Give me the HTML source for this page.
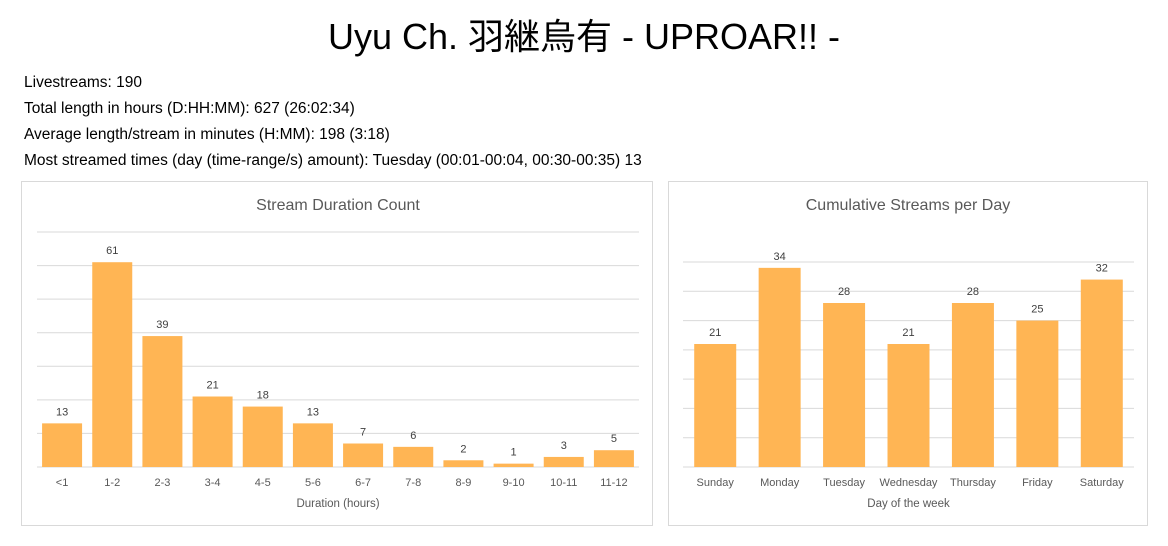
<!DOCTYPE html>
<html><head><meta charset="utf-8"><style>
body{margin:0;width:1168px;height:546px;background:#fff;font-family:"Liberation Sans","Noto Sans CJK JP",sans-serif;position:relative;overflow:hidden}
h1{position:absolute;top:8px;left:0;width:1168px;text-align:center;margin:0;font-weight:normal;font-size:36px;color:#000}
.st{position:absolute;left:24px;font-size:15.5px;color:#000}
.box{position:absolute;border:1px solid #d9d9d9;background:#fff}
svg text{font-family:"Liberation Sans",sans-serif}
</style></head><body>
<h1>Uyu Ch. 羽継烏有 - UPROAR!! -</h1>
<div class="st" style="top:74px">Livestreams: 190</div>
<div class="st" style="top:100px">Total length in hours (D:HH:MM): 627 (26:02:34)</div>
<div class="st" style="top:126px">Average length/stream in minutes (H:MM): 198 (3:18)</div>
<div class="st" style="top:152px">Most streamed times (day (time-range/s) amount): Tuesday (00:01-00:04, 00:30-00:35) 13</div>
<div class="box" style="left:21px;top:181px;width:630px;height:343px">
<svg id="c1" width="630" height="343"></svg></div>
<div class="box" style="left:668px;top:181px;width:478px;height:343px">
<svg id="c2" width="478" height="343"></svg></div>
<script>
const durCats=["<1","1-2","2-3","3-4","4-5","5-6","6-7","7-8","8-9","9-10","10-11","11-12"];
const durVals=[13,61,39,21,18,13,7,6,2,1,3,5];
const dayCats=["Sunday","Monday","Tuesday","Wednesday","Thursday","Friday","Saturday"];
const dayVals=[21,34,28,21,28,25,32];
const NS="http://www.w3.org/2000/svg";
function mk(svg,tag,a,txt){const e=document.createElementNS(NS,tag);for(const k in a)e.setAttribute(k,a[k]);if(txt!==undefined)e.textContent=txt;svg.appendChild(e);return e;}
function draw(id,cats,vals,o){
 const svg=document.getElementById(id);
 const y=v=>o.base-(v/o.max)*(o.base-o.top);
 const slot=(o.x1-o.x0)/cats.length;
 const t=mk(svg,"text",{x:o.cx,y:28,"text-anchor":"middle","font-size":16,fill:"#595959"},o.title);
 
 
 for(let v=0;v<=o.max;v+=o.step){
  const g=mk(svg,"line",{x1:o.x0,x2:o.x1,y1:y(v),y2:y(v),stroke:"#d9d9d9","stroke-width":1});
  
  
 }
 cats.forEach((c,i)=>{
  const cx=o.x0+slot*(i+0.5),v=vals[i];
  const b=mk(svg,"rect",{x:cx-o.bw/2,y:y(v),width:o.bw,height:o.base-y(v),fill:"#ffb554"});
  
  
  const l=mk(svg,"text",{x:cx,y:y(v)-8,"text-anchor":"middle","font-size":11,fill:"#404040"},v);
  
  
  const xl=mk(svg,"text",{x:cx,y:o.base+19,"text-anchor":"middle","font-size":11,fill:"#595959"},c);
  
  
 });
 const at=mk(svg,"text",{x:(o.x0+o.x1)/2,y:o.base+40,"text-anchor":"middle","font-size":11.5,fill:"#595959"},o.xt);
 
 
}
draw("c1",durCats,durVals,{x0:15,x1:617,top:50,base:285,max:70,step:10,bw:40,cx:316,title:"Stream Duration Count",xt:"Duration (hours)"});
draw("c2",dayCats,dayVals,{x0:14,x1:465,top:80,base:285,max:35,step:5,bw:42,cx:239,title:"Cumulative Streams per Day",xt:"Day of the week"});
</script>
</body></html>
